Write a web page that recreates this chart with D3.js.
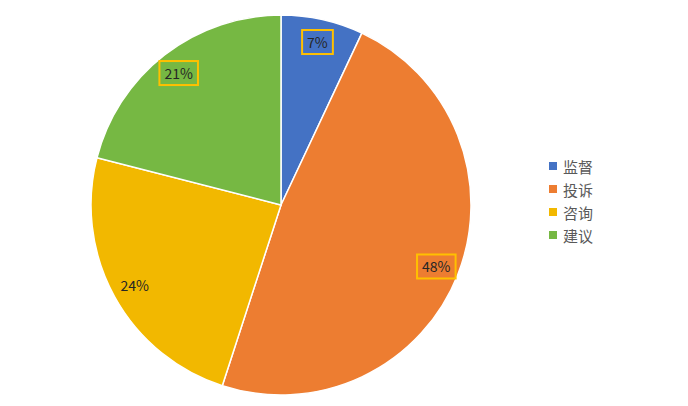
<!DOCTYPE html>
<html><head><meta charset="utf-8">
<script src="https://cdn.jsdelivr.net/npm/d3@7"></script>
<style>body{margin:0;background:#fff}svg{display:block}</style>
</head><body>
<script>
const categories = ["监督", "投诉", "咨询", "建议"];
const values = [7, 48, 24, 21];
const labels = ["7%", "48%", "24%", "21%"];
const boxed = [true, true, false, true];
const colors = ["#4472C4", "#ED7D31", "#F2B800", "#76B843"];

const W = 688, H = 406;
const cx = 281, cy = 205, R = 190, labelR = 167;
const svg = d3.select("body").append("svg").attr("width", W).attr("height", H);
const g = svg.append("g").attr("transform", `translate(${cx},${cy})`);
const pie = d3.pie().sort(null).value(d => d)(values);
const arc = d3.arc().innerRadius(0).outerRadius(R);
g.selectAll("path.slice").data(pie).join("path")
  .attr("d", arc).attr("fill", (d,i) => colors[i])
  .attr("stroke", "#fff").attr("stroke-width", 1.5);
const lab = d3.arc().innerRadius(labelR).outerRadius(labelR);
const font = "'Noto Sans CJK SC', 'Noto Sans', sans-serif";
pie.forEach((d, i) => {
  const [x, y] = lab.centroid(d);
  const t = g.append("text").attr("x", x).attr("y", y)
    .attr("text-anchor", "middle").attr("dominant-baseline", "central")
    .attr("font-family", font).attr("font-size", 14).attr("fill", "#262626")
    .text(labels[i]);
  if (boxed[i]) {
    const b = t.node().getBBox();
    g.insert("rect", "text").attr("x", b.x - 5).attr("y", y - 12)
      .attr("width", b.width + 10).attr("height", 24)
      .attr("fill", "none").attr("stroke", "#FFC000").attr("stroke-width", 2);
  }
});
const leg = svg.append("g");
categories.forEach((c, i) => {
  const y = 166 + i * 23;
  leg.append("rect").attr("x", 549).attr("y", y - 4).attr("width", 8).attr("height", 8).attr("fill", colors[i]);
  leg.append("text").attr("x", 563).attr("y", y).attr("dominant-baseline", "central")
    .attr("font-family", font).attr("font-size", 15).attr("fill", "#595959").text(c);
});
</script>
</body></html>
